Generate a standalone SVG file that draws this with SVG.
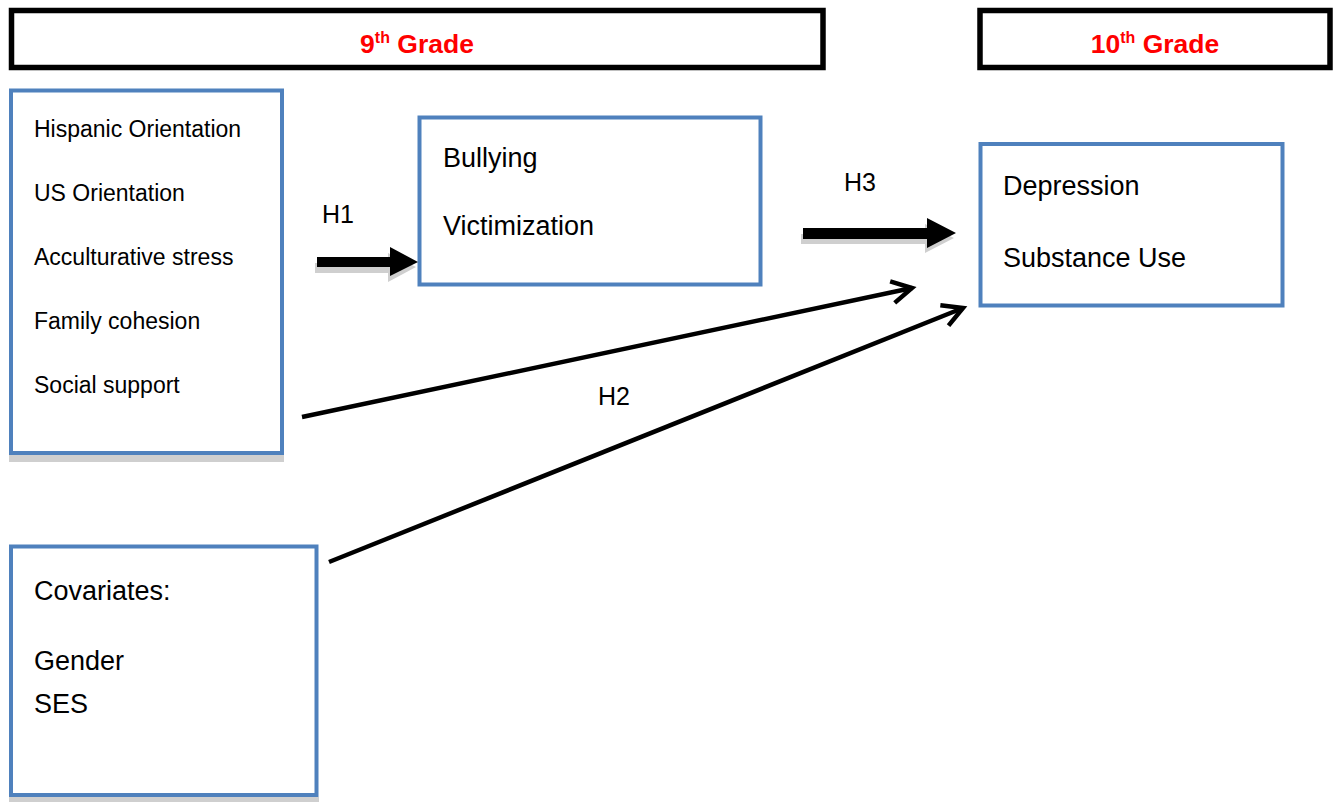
<svg xmlns="http://www.w3.org/2000/svg" width="1342" height="802" viewBox="0 0 1342 802">
<style>
.hdr{fill:#fff;stroke:#000;stroke-width:5.5}
.box{fill:#fff;stroke:#4F81BD;stroke-width:4}
.shadow{fill:#cfcfcf}
.t{font-family:"Liberation Sans",Arial,sans-serif;fill:#000}
.s{font-size:23px}
.m{font-size:27px}
.h{font-size:25px}
.g{font-family:"Liberation Sans",Arial,sans-serif;font-weight:bold;font-size:26.5px;fill:#FF0000}
.thin{fill:none;stroke:#000;stroke-width:4.5;stroke-linecap:butt}
</style>
<defs>
<marker id="open" markerUnits="userSpaceOnUse" markerWidth="40" markerHeight="40" refX="0" refY="0" viewBox="-30 -20 40 40" orient="auto" overflow="visible">
<path d="M-20,-11 L0,0 L-20,11" fill="none" stroke="#000" stroke-width="4.5" stroke-linejoin="miter"/>
</marker>
</defs>
<rect width="1342" height="802" fill="#fff"/>

<g id="grade9">
<rect class="hdr" x="11.5" y="10.5" width="811.5" height="57"/>
<text class="g" x="417" y="53" text-anchor="middle">9<tspan font-size="16" dy="-10">th</tspan><tspan dy="10"> Grade</tspan></text>
</g>

<g id="grade10">
<rect class="hdr" x="980" y="10.5" width="350" height="57"/>
<text class="g" x="1155" y="53" text-anchor="middle">10<tspan font-size="16" dy="-10">th</tspan><tspan dy="10"> Grade</tspan></text>
</g>

<g id="predictors">
<rect class="shadow" x="9" y="455" width="275" height="7"/>
<rect class="box" x="11" y="90.5" width="271" height="362.5"/>
<text class="t s" x="34" y="137">Hispanic Orientation</text>
<text class="t s" x="34" y="201">US Orientation</text>
<text class="t s" x="34" y="265">Acculturative stress</text>
<text class="t s" x="34" y="329">Family cohesion</text>
<text class="t s" x="34" y="393">Social support</text>
</g>

<g id="bullying">
<rect class="box" x="419.5" y="117.5" width="341" height="167"/>
<text class="t m" x="443" y="167">Bullying</text>
<text class="t m" x="443" y="235">Victimization</text>
</g>

<g id="outcomes">
<rect class="box" x="980.5" y="144" width="302" height="161.5"/>
<text class="t m" x="1003" y="195">Depression</text>
<text class="t m" x="1003" y="267">Substance Use</text>
</g>

<g id="covariates">
<rect class="shadow" x="9" y="797" width="310" height="5"/>
<rect class="box" x="11" y="546.5" width="305.5" height="248.5"/>
<text class="t m" x="34" y="600">Covariates:</text>
<text class="t m" x="34" y="670">Gender</text>
<text class="t m" x="34" y="713">SES</text>
</g>

<g id="connectors">
<polygon class="shadow" points="315,263 388,263 388,253 416,267 388,282 388,273 315,273"/>
<polygon fill="#000" points="317,257 390,257 390,247 418,262 390,276 390,267 317,267"/>
<polygon class="shadow" points="801,234 925,234 925,224 954,238 925,253 925,244 801,244"/>
<polygon fill="#000" points="803,228 927,228 927,218 956,233 927,248 927,239 803,239"/>
<line class="thin" x1="302" y1="417" x2="912" y2="288" marker-end="url(#open)"/>
<line class="thin" x1="329" y1="562" x2="963" y2="308" marker-end="url(#open)"/>
</g>

<g id="labels">
<text class="t h" x="322" y="223">H1</text>
<text class="t h" x="844" y="191">H3</text>
<text class="t h" x="598" y="405">H2</text>
</g>
</svg>
